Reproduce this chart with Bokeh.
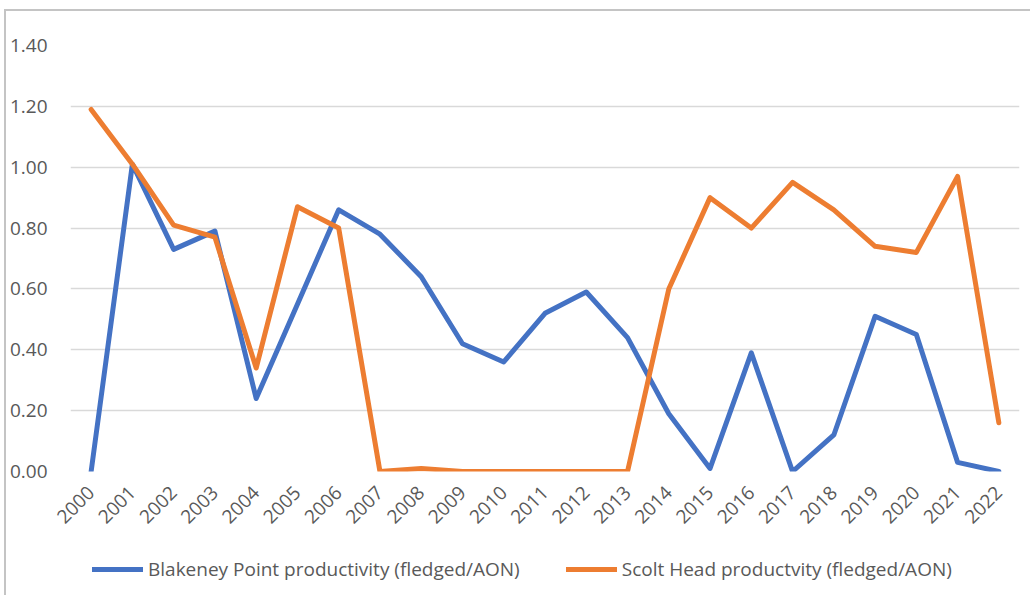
import math
from bokeh.plotting import figure
from bokeh.layouts import column
from bokeh.models import Range1d, FixedTicker, Legend, LegendItem, ColumnDataSource, NumeralTickFormatter
from bokeh.embed import file_html
from bokeh.resources import INLINE

years = [str(y) for y in range(2000, 2023)]
blakeney = [0.00, 1.01, 0.73, 0.79, 0.24, 0.55, 0.86, 0.78, 0.64, 0.42, 0.36, 0.52,
            0.59, 0.44, 0.19, 0.01, 0.39, 0.00, 0.12, 0.51, 0.45, 0.03, 0.00]
scolt = [1.19, 1.01, 0.81, 0.77, 0.34, 0.87, 0.80, 0.00, 0.01, 0.00, 0.00, 0.00,
         0.00, 0.00, 0.60, 0.90, 0.80, 0.95, 0.86, 0.74, 0.72, 0.97, 0.16]
y_ticks = [0.0, 0.2, 0.4, 0.6, 0.8, 1.0, 1.2, 1.4]
label_blakeney = "Blakeney Point productivity (fledged/AON)"
label_scolt = "Scolt Head productvity (fledged/AON)"

FONT = "Open Sans"
TXT = "#595959"
BLUE = "#4472C4"
ORANGE = "#ED7D31"

xs = list(range(len(years)))
src = ColumnDataSource(dict(x=xs, b=blakeney, s=scolt))

W = 1024
H1 = 540
H2 = 44

p = figure(width=W, height=H1, output_backend="svg", toolbar_location=None,
           x_range=Range1d(-0.5, len(years) - 0.5), y_range=Range1d(0, 1.4),
           min_border_left=64, min_border_right=11, min_border_top=34, min_border_bottom=80)
p.outline_line_color = None
p.background_fill_color = "white"
p.border_fill_color = "white"

p.yaxis.ticker = FixedTicker(ticks=y_ticks)
p.yaxis.formatter = NumeralTickFormatter(format="0.00")
p.yaxis.axis_line_color = None
p.yaxis.major_tick_line_color = None
p.yaxis.minor_tick_line_color = None
p.yaxis.major_label_text_font = FONT
p.yaxis.major_label_text_font_size = "19px"
p.yaxis.major_label_text_color = TXT
p.yaxis.major_label_standoff = 17

p.xaxis.ticker = FixedTicker(ticks=xs)
p.xaxis.major_label_overrides = {i: y for i, y in enumerate(years)}
p.xaxis.axis_line_color = None
p.xaxis.major_tick_line_color = None
p.xaxis.minor_tick_line_color = None
p.xaxis.major_label_orientation = math.pi / 4
p.xaxis.major_label_text_font = FONT
p.xaxis.major_label_text_font_size = "19px"
p.xaxis.major_label_text_color = TXT
p.xaxis.major_label_standoff = 12

p.xgrid.grid_line_color = None
p.ygrid.grid_line_color = "#d9d9d9"
p.ygrid.grid_line_width = 1.5

p.line("x", "b", source=src, line_color=BLUE, line_width=5, line_join="round", line_cap="round")
p.line("x", "s", source=src, line_color=ORANGE, line_width=5, line_join="round", line_cap="round")

# legend strip (its lines lie outside its visible range; only the legend shows)
p2 = figure(width=W, height=H2, output_backend="svg", toolbar_location=None,
            x_range=Range1d(100, 101), y_range=Range1d(100, 101),
            x_axis_location=None, y_axis_location=None,
            min_border_left=0, min_border_right=0, min_border_top=0, min_border_bottom=0)
p2.outline_line_color = None
p2.xgrid.grid_line_color = None
p2.ygrid.grid_line_color = None
l1 = p2.line("x", "b", source=src, line_color=BLUE, line_width=5, line_cap="round")
l2 = p2.line("x", "s", source=src, line_color=ORANGE, line_width=5, line_cap="round")

legend = Legend(items=[LegendItem(label=label_blakeney, renderers=[l1]),
                       LegendItem(label=label_scolt, renderers=[l2])],
                orientation="horizontal", location=(22, 13),
                glyph_width=51, glyph_height=20, label_standoff=5, spacing=46,
                padding=0, margin=0, border_line_color=None, background_fill_alpha=0,
                label_text_font=FONT, label_text_font_size="19px", label_text_color=TXT)
p2.add_layout(legend, "center")

layout = column(p, p2, spacing=0,
                styles={"margin": "9px 0 0 4px", "border-top": "2px solid #c4c4c4",
                        "border-left": "2px solid #c4c4c4"})

open("out.html", "w").write(file_html(layout, INLINE))
